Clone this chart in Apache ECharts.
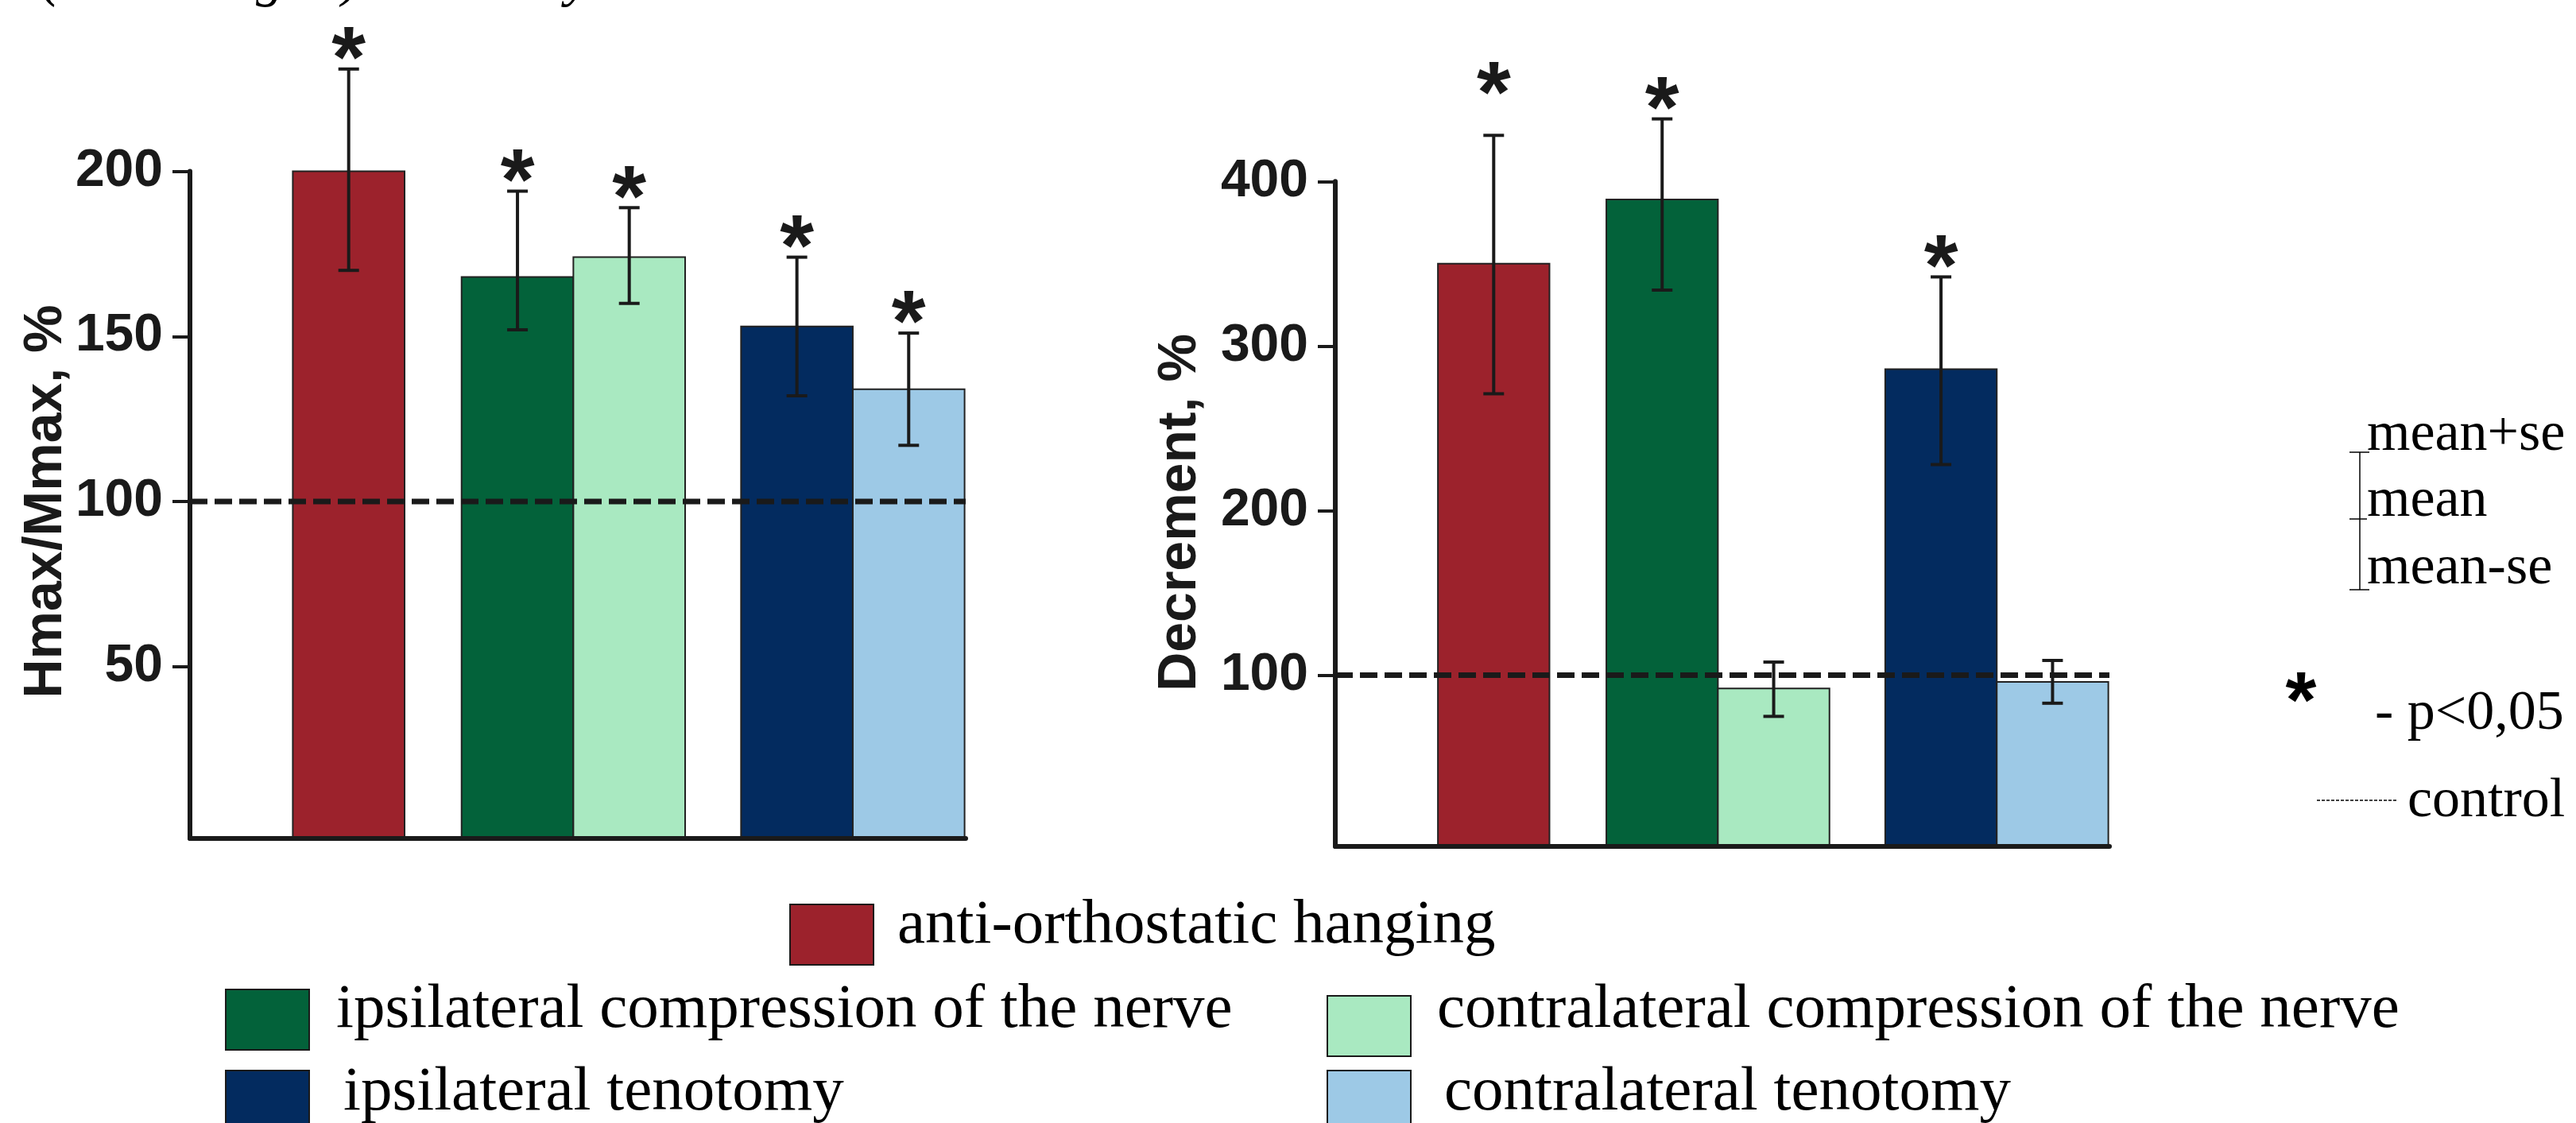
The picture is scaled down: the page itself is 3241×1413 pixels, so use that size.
<!DOCTYPE html>
<html>
<head>
<meta charset="utf-8">
<script src="https://cdn.jsdelivr.net/npm/echarts@6/dist/echarts.min.js"></script>
<style>
  html, body { margin: 0; padding: 0; background: #fff; }
  #chart { width: 3241px; height: 1413px; }
</style>
</head>
<body>
<div id="chart"></div>
<script>
// groups shown in both panels
const groups = [
  "anti-orthostatic hanging",
  "ipsilateral compression of the nerve",
  "contralateral compression of the nerve",
  "ipsilateral tenotomy",
  "contralateral tenotomy",
];
const barColors = ["#9c222c", "#03623a", "#a9e9c1", "#032b5f", "#9dc9e6"];

// Hmax/Mmax, %  (mean, mean-se, mean+se, significance)
const hmaxMean = [200, 168, 174, 153, 134];
const hmaxLower = [170, 152, 160, 132, 117];
const hmaxUpper = [231, 194, 189, 174, 151];
const hmaxSig = [1, 1, 1, 1, 1];

// Decrement, %
const decMean = [350, 389, 92, 286, 96];
const decLower = [271, 334, 75, 228, 83];
const decUpper = [428, 438, 108, 342, 109];
const decSig = [1, 1, 0, 1, 0];

const controlLevel = 100;
const hmaxTicks = [50, 100, 150, 200];
const decTicks = [100, 200, 300, 400];

// bar slots on a hidden x axis, one bar = 1 unit
const slotCenter = [1.42, 2.93, 3.93, 5.43, 6.43];
const slotMax = 6.94;
// the first asterisk of the right panel sits higher in the original
const starLift = [[0, 0, 0, 0, 0], [40, 0, 0, 0, 0]];

const ink = "#1a1a1a";
const chart = echarts.init(document.getElementById("chart"));

function makeRenderBar(k, i) {
  return function (params, api) {
    const cs = params.coordSys;
    const x = api.value(0);
    const w = api.size([1, 0])[0];
    const p = api.coord([x, api.value(1)]);
    const cx = p[0];
    const top = p[1];
    const lo = api.coord([x, api.value(2)])[1];
    const hi = api.coord([x, api.value(3)])[1];
    const bottom = cs.y + cs.height;
    const children = [
      {
        type: "rect",
        shape: { x: cx - w / 2, y: top, width: w, height: bottom - top },
        style: { fill: api.visual("color"), stroke: "#222", lineWidth: 2 },
      },
      { type: "line", shape: { x1: cx, y1: hi, x2: cx, y2: lo }, style: { stroke: ink, lineWidth: 4 } },
      { type: "line", shape: { x1: cx - 13, y1: hi, x2: cx + 13, y2: hi }, style: { stroke: ink, lineWidth: 4 } },
      { type: "line", shape: { x1: cx - 13, y1: lo, x2: cx + 13, y2: lo }, style: { stroke: ink, lineWidth: 4 } },
    ];
    if (api.value(4)) {
      children.push({
        type: "text",
        x: cx,
        y: hi - 8 - starLift[k][i],
        style: {
          text: "*",
          font: 'bold 110px "Liberation Sans"',
          fill: ink,
          textAlign: "center",
          textVerticalAlign: "middle",
        },
      });
    }
    return { type: "group", children };
  };
}

function panelSeries(k, mean, lower, upper, sig) {
  const list = groups.map((name, i) => ({
    name,
    type: "custom",
    xAxisIndex: k,
    yAxisIndex: k,
    clip: false,
    z: 2,
    itemStyle: { color: barColors[i] },
    data: [[slotCenter[i], mean[i], lower[i], upper[i], sig[i]]],
    renderItem: makeRenderBar(k, i),
  }));
  list.push({
    name: "control",
    type: "line",
    xAxisIndex: k,
    yAxisIndex: k,
    z: 4,
    silent: true,
    symbol: "none",
    data: [[0, controlLevel], [slotMax, controlLevel]],
    lineStyle: { type: [22, 9], width: 7, color: ink },
  });
  return list;
}

function xAxisFor(k) {
  return {
    gridIndex: k,
    type: "value",
    min: 0,
    max: slotMax,
    z: 10,
    axisLine: { show: true, onZero: false, lineStyle: { color: ink, width: 6 } },
    axisTick: { show: false },
    axisLabel: { show: false },
    splitLine: { show: false },
  };
}

function yAxisFor(k, min, max, ticks) {
  return {
    gridIndex: k,
    type: "value",
    min,
    max,
    z: 10,
    axisLine: { show: true, onZero: false, lineStyle: { color: ink, width: 6 } },
    axisTick: { show: true, length: 22, customValues: ticks, lineStyle: { color: ink, width: 4 } },
    axisLabel: {
      customValues: ticks,
      margin: 34,
      color: ink,
      fontSize: 66,
      fontWeight: "bold",
      fontFamily: "Liberation Sans",
    },
    splitLine: { show: false },
  };
}

function serifText(text, x, y, size, fontStyle) {
  return {
    type: "text",
    x,
    y,
    style: {
      text,
      font: (fontStyle || "") + " " + size + 'px "Liberation Serif"',
      fill: "#000",
      textAlign: "left",
      textVerticalAlign: "middle",
    },
  };
}

function swatch(i, x, y) {
  return {
    type: "rect",
    shape: { x, y, width: 105, height: 76 },
    style: { fill: barColors[i], stroke: ink, lineWidth: 2 },
  };
}

const graphics = [
  // clipped bottom of a caption line above the figure
  serifText("(", 52, -24, 70, "italic"),
  serifText("g", 322, -24, 70, "italic"),
  serifText(")", 430, -24, 70, "italic"),
  serifText("y", 712, -24, 70, "italic"),

  // axis titles
  {
    type: "text", x: 58, y: 631, rotation: Math.PI / 2,
    style: { text: "Hmax/Mmax, %", font: 'bold 68px "Liberation Sans"', fill: ink, textAlign: "center", textVerticalAlign: "middle" },
  },
  {
    type: "text", x: 1485, y: 645, rotation: Math.PI / 2,
    style: { text: "Decrement, %", font: 'bold 68px "Liberation Sans"', fill: ink, textAlign: "center", textVerticalAlign: "middle" },
  },

  // legend
  swatch(0, 994, 1138),
  serifText(groups[0], 1129, 1165, 79),
  swatch(1, 284, 1245),
  serifText(groups[1], 423, 1271, 79),
  swatch(2, 1670, 1253),
  serifText(groups[2], 1808, 1271, 79),
  swatch(3, 284, 1347),
  serifText(groups[3], 432, 1375, 79),
  swatch(4, 1670, 1347),
  serifText(groups[4], 1817, 1375, 79),

  // key for error bars, asterisk and control line
  { type: "line", shape: { x1: 2969, y1: 569, x2: 2969, y2: 742 }, style: { stroke: "#000", lineWidth: 1.5 } },
  { type: "line", shape: { x1: 2956, y1: 569, x2: 2981, y2: 569 }, style: { stroke: "#000", lineWidth: 1.5 } },
  { type: "line", shape: { x1: 2956, y1: 653, x2: 2978, y2: 653 }, style: { stroke: "#000", lineWidth: 1.5 } },
  { type: "line", shape: { x1: 2956, y1: 742, x2: 2981, y2: 742 }, style: { stroke: "#000", lineWidth: 1.5 } },
  serifText("mean+se", 2978, 548, 70),
  serifText("mean", 2978, 631, 70),
  serifText("mean-se", 2978, 716, 70),
  {
    type: "text", x: 2895, y: 887,
    style: { text: "*", font: 'bold 100px "Liberation Sans"', fill: "#000", textAlign: "center", textVerticalAlign: "middle" },
  },
  serifText("- p<0,05", 2988, 899, 70),
  { type: "line", shape: { x1: 2915, y1: 1007, x2: 3015, y2: 1007 }, style: { stroke: "#000", lineWidth: 1.5, lineDash: [4, 2] } },
  serifText("control", 3029, 1009, 70),
];

chart.setOption({
  animation: false,
  backgroundColor: "#fff",
  grid: [
    { left: 239, top: 215.6, width: 976, height: 839.4 },
    { left: 1680, top: 228.3, width: 974, height: 836.7 },
  ],
  xAxis: [xAxisFor(0), xAxisFor(1)],
  yAxis: [yAxisFor(0, -2.1, 200, hmaxTicks), yAxisFor(1, -4, 400, decTicks)],
  series: [
    ...panelSeries(0, hmaxMean, hmaxLower, hmaxUpper, hmaxSig),
    ...panelSeries(1, decMean, decLower, decUpper, decSig),
  ],
  graphic: graphics,
});
</script>
</body>
</html>
